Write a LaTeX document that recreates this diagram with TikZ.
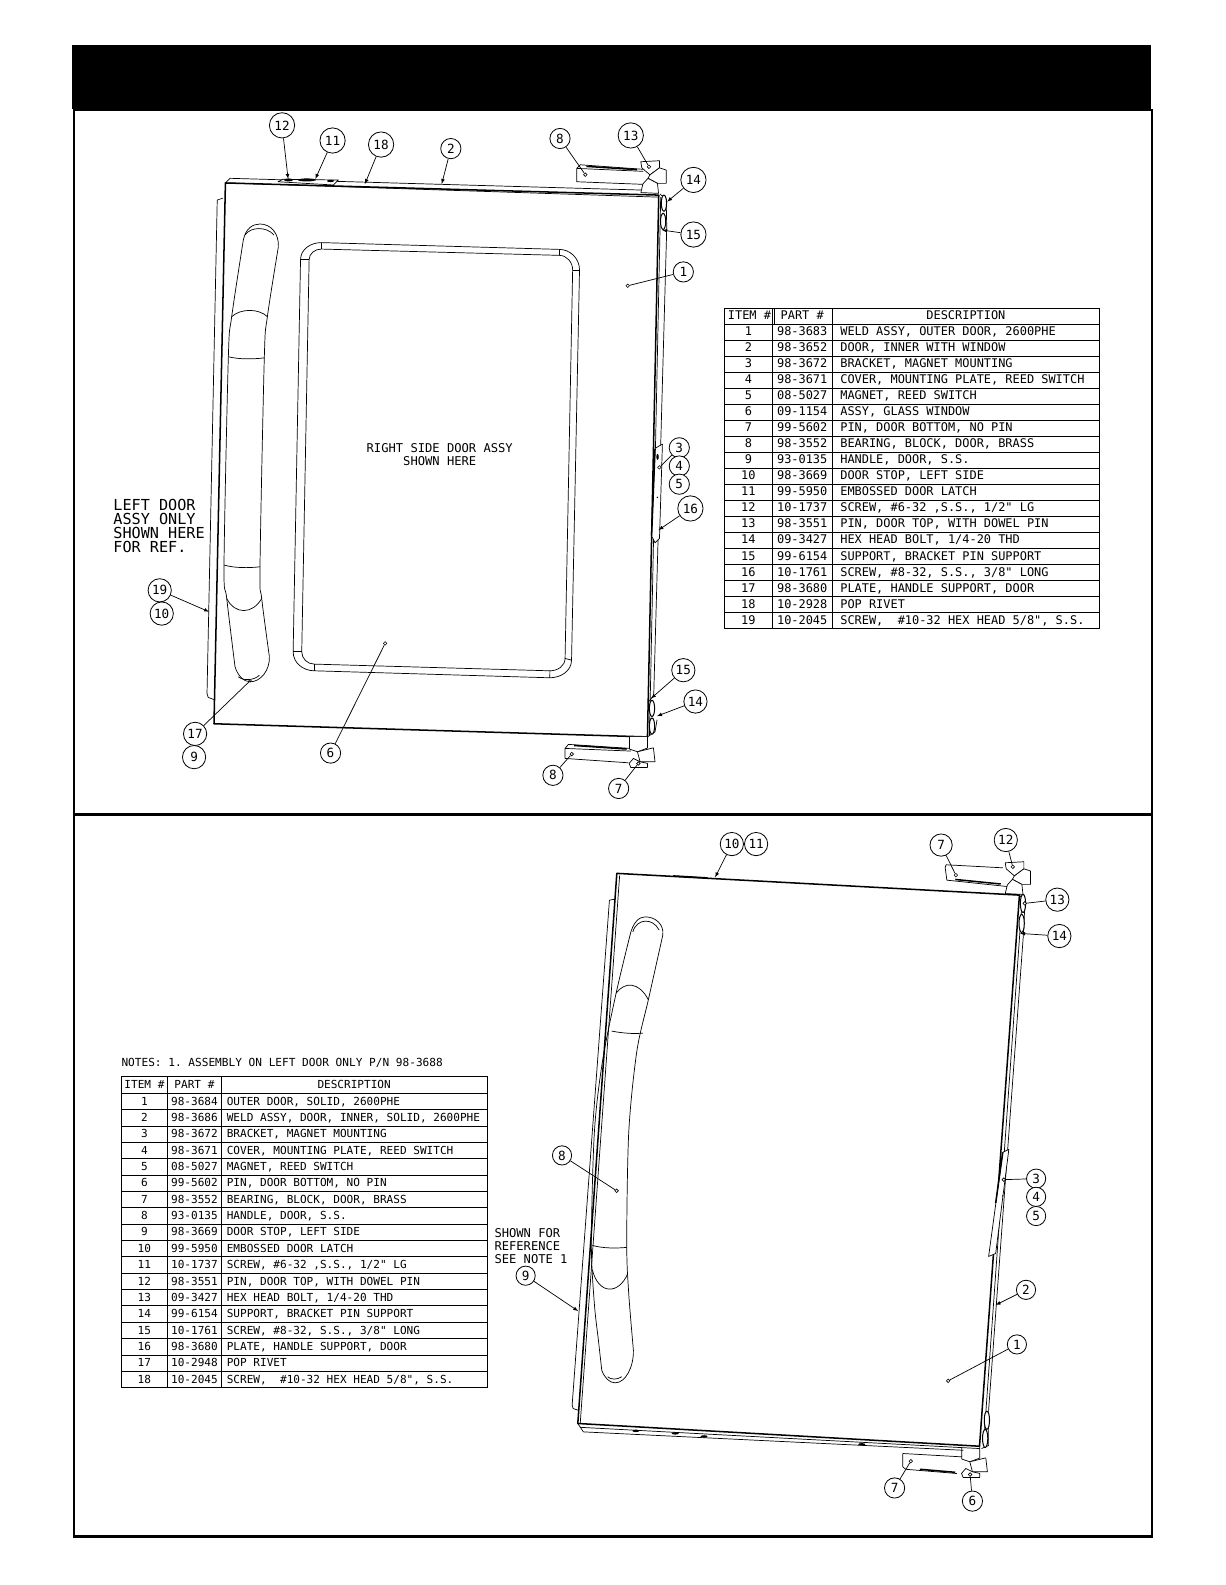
\documentclass[tikz,border=0pt]{standalone}
\usepackage{fontspec}
\setmonofont{DejaVu Sans Mono}
\tikzset{
	balloon/.style  = {draw, fill=white, circle, minimum size=25pt, inner sep=0pt, line width=.8pt, font=\ttfamily\fontsize{12.5}{12}\selectfont},
	sballoon/.style = {balloon, minimum size=20pt},
	mballoon/.style = {balloon, minimum size=23pt},
	leadend/.style  = {coordinate},
	leaddot/.style  = {draw, fill=white, circle, minimum size=3.5pt, inner sep=0pt, line width=.6pt},
	lead/.style     = {line width=.7pt},
	part/.style     = {line width=.7pt, line join=round},
	heavy/.style    = {line width=1.5pt, line join=round},
	frameline/.style = {line width=2pt},
	note/.style     = {align=left, anchor=north west, inner sep=0pt, font=\ttfamily\fontsize{12}{13}\selectfont},
	ucell/.style    = {draw, rectangle, anchor=west, inner ysep=0pt, minimum height=15.85pt, text height=8.8pt, text depth=1.5pt, line width=.8pt, font=\ttfamily\fontsize{11.8}{12}\selectfont},
	lcell/.style    = {ucell, minimum height=16.18pt, font=\ttfamily\fontsize{10.95}{12}\selectfont},
}

\begin{document}
\begin{tikzpicture}[x=1pt, y=-1pt, >=latex]
	\useasboundingbox (0,0) rectangle (1212,1568);

	% Draw the sheet frame
	\node[fill=black, minimum width=1067pt, minimum height=64pt, inner sep=0pt, anchor=north west] (banner) at (71,44) {};
	\node[draw, frameline, minimum width=1067pt, minimum height=1411pt, inner sep=0pt, anchor=north west] (sheet) at (72,108) {};
	\draw[line width=2.5pt] (sheet.west |- 0,806) -- (sheet.east |- 0,806);

	% Draw the upper door
	\draw[heavy] (223,181) -- (651.7,193) -- (640.5,729) -- (211.7,716) -- cycle;
	\draw[part] (223,181) -- (227.5,176.4) -- (634,188);
	\draw[part] (226,181) -- (651,195);
	\draw[part] (214.9,197.9) -- (220.6,196);
	\draw[part] (214.9,197.9) -- (204.8,686) -- (206,690) -- (211.7,692);
	\draw[part] (653.6,195) -- (642.5,727);
	\draw[part] (653,192) -- (659,197) -- (659.6,225) -- (646.7,688) -- (641,695);
	\draw[part] (640.5,729) -- (648,724) -- (650,712);
	\draw[part, fill=white] (275,179.8) -- (280,177.4) -- (334.8,178.1) -- (329.7,183) -- cycle;
	\fill (285.4,178) ellipse (4.5 and 1.5);
	\fill (303.5,178) ellipse (9 and 1.5);
	\fill (327,179) ellipse (3.5 and 1.2);
	\foreach \bx/\by in {656.8/201, 656/219, 645/700.8, 645/718.3}
		\draw[line width=1pt, fill=white] (\bx,\by) ellipse (2.6 and 8);

	% Draw the upper handle
	\draw[part] plot[smooth] coordinates {(240.7,237.5) (229.2,313.3) (225.9,352.9) (221.6,559) (224.3,592) (232.5,659.6)};
	\draw[part] plot[smooth] coordinates {(275.4,244) (264.5,313.3) (261.5,352.9) (257.2,560.7) (258.9,592) (266.5,649.7)};
	\draw[part] (240.7,237.5) .. controls (243,226) and (250,221.6) .. (257.2,221.6) .. controls (268,221.6) and (276,231) .. (275.4,244);
	\draw[part] (232.5,659.6) .. controls (235,668) and (241,674.5) .. (247.4,674.5) .. controls (258,674.5) and (267,663) .. (266.5,649.7);
	\draw[part] (229.2,313.3) .. controls (238,305) and (256,305) .. (264.5,313.3);
	\draw[part] (225.9,352.9) .. controls (236,355.5) and (250,355.5) .. (261.5,354);
	\draw[part] (221.6,559) .. controls (232,562) and (246,562) .. (257.2,560.7);
	\draw[part] (224.3,592) .. controls (232,608) and (250,608) .. (258.9,592);
	\draw[part] (242.4,232.5) .. controls (248,224) and (264,224) .. (271,232.5);
	\draw[part] (235.8,669.5) .. controls (240,673.5) and (251,673.5) .. (256.6,668);

	% Draw the window
	\draw[part] (317.8,240) -- (553,246.7) to[out=0, in=90] (573.3,267) -- (565.4,653) to[out=-90, in=0] (543.9,670.5) -- (311,663.6) to[out=180, in=-90] (290,644.8) -- (297.3,257) to[out=90, in=180] cycle;
	\draw[part] (317.8,246.4) -- (553,252.6) to[out=0, in=90] (566.5,267) -- (559,651.4) to[out=-90, in=0] (544,663.6) -- (311,657) to[out=180, in=-90] (298.5,644.8) -- (305.8,257) to[out=90, in=180] cycle;
	\draw[part] (317.8,240) -- (317.8,246.4) (553,246.7) -- (553,252.6) (573.3,267) -- (566.5,267);
	\draw[part] (297.3,257) -- (305.8,257) (290,644.8) -- (298.5,644.8) (311,663.6) -- (311,657);
	\draw[part] (543.9,670.5) -- (544,663.6) (565.4,653) -- (559,651.4);

	% Draw the hinge blocks
	\draw[part] (570.6,166.6) -- (574,163) -- (636.5,167.5) (570.6,166.6) -- (636.5,169.5) (570.6,166.6) -- (570.6,179.8) -- (637.2,182.4);
	\draw[heavy] (580,164.6) -- (630,167.8);
	\draw[part] (559,740.4) -- (562.3,736.4) -- (624,740.4) (559,740.4) -- (624,743) (559,740.4) -- (559,750.3) -- (621.7,754.6);
	\draw[heavy] (568,737.5) -- (620,741);
	\draw[part] (935,858) -- (936,855.5) -- (992,858.5) (935,858) -- (936.7,870.7) -- (999.3,877.3);
	\draw[heavy] (945,870) -- (990,874.5);
	\draw[part] (893.1,1437.9) -- (953.1,1441.3) (893.1,1437.9) -- (893.1,1451.1) -- (896,1453.5) -- (946.6,1457.7);
	\draw[heavy] (910,1453.5) -- (945,1456.5);

	% Draw the hinge pins at the top
	\foreach \hx/\hy in {0/0, 360.5/693.5} {
		\draw[part, fill=white] (\hx+633.9,\hy+160) -- (\hx+652.4,\hy+159) -- (\hx+652.4,\hy+166) -- (\hx+643,\hy+173) -- (\hx+634.9,\hy+166) -- cycle;
		\draw[part, fill=white] (\hx+652.4,\hy+166) -- (\hx+659,\hy+168.2) -- (\hx+659,\hy+181.4) -- (\hx+650.4,\hy+181.4) -- (\hx+641,\hy+176.4) -- (\hx+643,\hy+173) -- cycle;
		\draw[part, fill=white] (\hx+636,\hy+182) -- (\hx+641,\hy+176.4) -- (\hx+650.4,\hy+181.4) -- (\hx+651.5,\hy+191.3) -- (\hx+634,\hy+190.5) -- cycle;
	}

	% Draw the hinge pins at the bottom
	\foreach \hx/\hy in {0/0, 328.8/702.4} {
		\draw[part, fill=white] (\hx+622.7,\hy+728.9) -- (\hx+622.7,\hy+741) -- (\hx+630.6,\hy+743.7) -- (\hx+640.5,\hy+740) -- (\hx+640.5,\hy+728.9);
		\draw[part, fill=white] (\hx+630.6,\hy+743.7) -- (\hx+646.4,\hy+739.8) -- (\hx+648,\hy+753.6) -- (\hx+633.2,\hy+753.6) -- cycle;
		\draw[part, fill=white] (\hx+622.4,\hy+755.2) -- (\hx+626.6,\hy+750.3) -- (\hx+633.2,\hy+753.6) -- (\hx+640.5,\hy+755.2) -- (\hx+640.5,\hy+759.2) -- (\hx+624,\hy+759.2) -- cycle;
	}

	% Draw the upper bracket
	\draw[part, fill=white] (648,443.6) -- (655.3,439.3) -- (652.4,532.6) -- (648,537) -- (644.6,530) -- cycle;
	\draw[heavy] (648,444) -- (644.6,530);
	\fill (650.5,452) ellipse (1.2 and 3);
	\fill (650.3,492) circle (.8);

	% Draw the upper balloons
	\draw
	node[balloon] at (279,124) (u12) {12}
	node[balloon] at (329,139) (u11) {11}
	node[balloon] at (377,143) (u18) {18}
	node[sballoon] at (446,147) (u2) {2}
	node[sballoon] at (554,137) (u8) {8}
	node[balloon] at (624,134) (u13) {13}
	node[balloon] at (686,178) (u14) {14}
	node[balloon] at (686,232) (u15) {15}
	node[sballoon] at (676,269) (u1) {1}
	node[sballoon] at (672,443) (u3) {3}
	node[sballoon] at (672,461) (u4) {4}
	node[sballoon] at (672,479) (u5) {5}
	node[balloon] at (683,503) (u16) {16}
	node[mballoon] at (158,584) (u19) {19}
	node[mballoon] at (160,607) (u10) {10}
	node[mballoon] at (193,726) (u17) {17}
	node[mballoon] at (192,749) (u9) {9}
	node[sballoon] at (327,745) (u6) {6}
	node[mballoon] at (676,663) (u15b) {15}
	node[mballoon] at (688,694) (u14b) {14}
	node[sballoon] at (547,767) (u8b) {8}
	node[sballoon] at (612,780) (u7) {7};

	% Draw the upper leader ends
	\draw
	node[leadend] at (285,177) (e12) {}
	node[leadend] at (312,177) (e11) {}
	node[leadend] at (361,182) (e18) {}
	node[leadend] at (437,182) (e2) {}
	node[leadend] at (660,199.5) (e14) {}
	node[leadend] at (655,227.6) (e15) {}
	node[leadend] at (651.4,524.4) (e16) {}
	node[leadend] at (206.8,605.2) (e19) {}
	node[leadend] at (644,691) (e15b) {}
	node[leadend] at (650,708.4) (e14b) {}
	node[leaddot] at (579,172.8) (d8) {}
	node[leaddot] at (642,165) (d13) {}
	node[leaddot] at (621,282.7) (d1) {}
	node[leaddot] at (652.3,462.4) (d3) {}
	node[leaddot] at (381,636.5) (d6) {}
	node[leaddot] at (565.6,746) (d8b) {}
	node[leaddot] at (631.5,755.3) (d7) {}
	node[leaddot, minimum size=2.5pt] at (247.4,673.5) (d17) {};

	% Connect the upper balloons
	\draw[lead, ->] (u12) -- (e12);
	\draw[lead, ->] (u11) -- (e11);
	\draw[lead, ->] (u18) -- (e18);
	\draw[lead, ->] (u2) -- (e2);
	\draw[lead, ->] (u14) -- (e14);
	\draw[lead, ->] (u15) -- (e15);
	\draw[lead, ->] (u16) -- (e16);
	\draw[lead, ->] (u19) -- (e19);
	\draw[lead, ->] (u15b) -- (e15b);
	\draw[lead, ->] (u14b) -- (e14b);
	\draw[lead] (u8) -- (d8);
	\draw[lead] (u13) -- (d13);
	\draw[lead] (u1) -- (d1);
	\draw[lead] (u3) -- (d3);
	\draw[lead] (u6) -- (d6);
	\draw[lead] (u8b) -- (d8b);
	\draw[lead] (u7) -- (d7);
	\draw[lead] (u17) -- (d17);

	% Draw the upper notes
	\node[note, font=\ttfamily\fontsize{15}{13.7}\selectfont] (leftnote) at (112,494) {LEFT DOOR\\ASSY ONLY\\SHOWN HERE\\FOR REF.};
	\node[align=center, font=\ttfamily\fontsize{12}{12.5}\selectfont] (rightnote) at (435,450) {RIGHT SIDE DOOR ASSY\\SHOWN HERE};

	% Draw the upper table
	\node[ucell, minimum width=47.1pt] (uitem0) at (716.4,312.6) {ITEM \#};
	\node[ucell, minimum width=59.4pt] (upart0) at (763.5,312.6) {PART \#};
	\node[ucell, minimum width=264.5pt] (udesc0) at (822.9,312.6) {DESCRIPTION};
	\foreach \i/\pn/\desc in {
		1/98-3683/{WELD ASSY, OUTER DOOR, 2600PHE},
		2/98-3652/{DOOR, INNER WITH WINDOW},
		3/98-3672/{BRACKET, MAGNET MOUNTING},
		4/98-3671/{COVER, MOUNTING PLATE, REED SWITCH},
		5/08-5027/{MAGNET, REED SWITCH},
		6/09-1154/{ASSY, GLASS WINDOW},
		7/99-5602/{PIN, DOOR BOTTOM, NO PIN},
		8/98-3552/{BEARING, BLOCK, DOOR, BRASS},
		9/93-0135/{HANDLE, DOOR, S.S.},
		10/98-3669/{DOOR STOP, LEFT SIDE},
		11/99-5950/{EMBOSSED DOOR LATCH},
		12/10-1737/{SCREW, \#6-32 ,S.S., 1/2" LG},
		13/98-3551/{PIN, DOOR TOP, WITH DOWEL PIN},
		14/09-3427/{HEX HEAD BOLT, 1/4-20 THD},
		15/99-6154/{SUPPORT, BRACKET PIN SUPPORT},
		16/10-1761/{SCREW, \#8-32, S.S., 3/8" LONG},
		17/98-3680/{PLATE, HANDLE SUPPORT, DOOR},
		18/10-2928/{POP RIVET},
		19/10-2045/{SCREW,~~\#10-32 HEX HEAD 5/8", S.S.}} {
		\node[ucell, minimum width=47.1pt] (uitem\i) at (716.4,{312.6+15.85*\i}) {\i};
		\node[ucell, minimum width=59.4pt] (upart\i) at (763.5,{312.6+15.85*\i}) {\pn};
		\node[ucell, minimum width=264.5pt, text width=248.5pt, align=flush left] (udesc\i) at (822.9,{312.6+15.85*\i}) {\desc};
	}

	% Draw the lower door
	\draw[heavy] (610.2,864) -- (1008.5,885.5) -- (969,1430.7) -- (571.6,1408.2) -- cycle;
	\draw[part] (571.6,1408.2) -- (577.1,1416.5) -- (953,1434.7);
	\draw[part] (574,1412) -- (969,1433);
	\draw[part] (613,866) -- (574,1408);
	\draw[heavy] (666,866.5) -- (700,868.5);
	\draw[part] (602.9,890.5) -- (608.5,889.5);
	\draw[part] (602.9,890.5) -- (566,1390) -- (567,1393.4) -- (571.6,1395);
	\draw[part] (1011.5,886) -- (973,1429);
	\draw[part] (1008.5,885.5) -- (1014,892) -- (1012.5,923.4) -- (978,1395) -- (978,1430) -- (971,1433);
	\foreach \bx/\by in {1012/893.7, 1010.7/913.5, 976.3/1405, 974.6/1423}
		\draw[line width=1pt, fill=white] (\bx,\by) ellipse (2.6 and 9);
	\foreach \bx/\by in {629/1415.5, 668/1418, 696.5/1421, 852.5/1428.8}
		\fill (\bx,\by) ellipse (3.5 and 1.2);

	% Draw the lower handle
	\draw[part] plot[smooth] coordinates {(623.3,925) (609.5,982.5) (596,1050) (588,1120) (585,1230) (588,1290) (592,1326) (595.3,1355.5)};
	\draw[part] plot[smooth] coordinates {(655.7,925) (641.4,989) (630,1040) (622,1120) (620,1230) (622,1280) (626.6,1335.7)};
	\draw[part] (623.3,925) .. controls (626,913) and (632,907) .. (638.2,907) .. controls (649,907) and (657,915) .. (655.7,925);
	\draw[part] (595.3,1355.5) .. controls (598,1363) and (603,1368) .. (608.5,1368) .. controls (619,1368) and (627,1352) .. (626.6,1335.7);
	\draw[part] (609.5,982.5) .. controls (618,971) and (632,971) .. (641.4,989);
	\draw[part] (605,1020) .. controls (615,1022) and (627,1023) .. (636,1022);
	\draw[part] (586,1232) .. controls (596,1235) and (610,1235) .. (620,1234);
	\draw[part] (586,1256) .. controls (592,1281) and (612,1281) .. (621,1260);
	\draw[part] (626,922) .. controls (630,908) and (646,908) .. (652,920);
	\draw[part] (601.2,1362) .. controls (604,1365) and (611,1365) .. (615,1362);

	% Draw the lower bracket
	\draw[part, fill=white] (992,1140) -- (998,1137) -- (985,1240) -- (978,1243) -- cycle;
	\draw[heavy] (992,1140) -- (985,1190);
	\fill (992,1183) circle (.8);

	% Draw the lower balloons
	\draw
	node[mballoon] at (724,835) (l10) {10}
	node[mballoon] at (748,835) (l11) {11}
	node[mballoon, minimum size=22pt] at (931,836) (l7) {7}
	node[mballoon] at (995,831) (l12) {12}
	node[mballoon] at (1046,890) (l13) {13}
	node[mballoon] at (1048,926) (l14) {14}
	node[sballoon, minimum size=19pt] at (1025,1166) (l3) {3}
	node[sballoon, minimum size=19pt] at (1025,1184) (l4) {4}
	node[sballoon, minimum size=19pt] at (1025,1203) (l5) {5}
	node[sballoon, minimum size=19pt] at (1015,1276) (l2) {2}
	node[sballoon, minimum size=19pt] at (1006,1330) (l1) {1}
	node[sballoon] at (962,1485) (l6) {6}
	node[sballoon] at (885,1472) (l7b) {7}
	node[sballoon, minimum size=19pt] at (556,1143) (l8) {8}
	node[sballoon, minimum size=19pt] at (520,1262) (l9) {9};

	% Draw the lower leader ends
	\draw
	node[leadend] at (707.4,868) (f10) {}
	node[leadend] at (1009.2,923.4) (f14) {}
	node[leadend] at (985,1291) (f2) {}
	node[leadend] at (572,1297) (f9) {}
	node[leaddot] at (1001.9,857.5) (g12) {}
	node[leaddot] at (945.6,865.7) (g7) {}
	node[leaddot] at (1013.7,893.7) (g13) {}
	node[leaddot] at (993,1167) (g3) {}
	node[leaddot] at (938,1366) (g1) {}
	node[leaddot] at (959.7,1458.7) (g6) {}
	node[leaddot] at (901,1445.5) (g7b) {}
	node[leaddot] at (610,1178) (g8) {};

	% Connect the lower balloons
	\draw[lead, ->] (l10) -- (f10);
	\draw[lead, ->] (l14) -- (f14);
	\draw[lead, ->] (l2) -- (f2);
	\draw[lead, ->] (l9) -- (f9);
	\draw[lead] (l12) -- (g12);
	\draw[lead] (l7) -- (g7);
	\draw[lead] (l13) -- (g13);
	\draw[lead] (l3) -- (g3);
	\draw[lead] (l1) -- (g1);
	\draw[lead] (l6) -- (g6);
	\draw[lead] (l7b) -- (g7b);
	\draw[lead] (l8) -- (g8);

	% Draw the lower notes
	\node[note] (shownnote) at (489,1215) {SHOWN FOR\\REFERENCE\\SEE NOTE 1};
	\node[note, font=\ttfamily\fontsize{11}{12}\selectfont] (assynote) at (120,1047) {NOTES: 1. ASSEMBLY ON LEFT DOOR ONLY P/N 98-3688};

	% Draw the lower table
	\node[lcell, minimum width=46.1pt] (litem0) at (119.4,1073.4) {ITEM \#};
	\node[lcell, minimum width=52.9pt] (lpart0) at (165.5,1073.4) {PART \#};
	\node[lcell, minimum width=263.1pt] (ldesc0) at (218.4,1073.4) {DESCRIPTION};
	\foreach \i/\pn/\desc in {
		1/98-3684/{OUTER DOOR, SOLID, 2600PHE},
		2/98-3686/{WELD ASSY, DOOR, INNER, SOLID, 2600PHE},
		3/98-3672/{BRACKET, MAGNET MOUNTING},
		4/98-3671/{COVER, MOUNTING PLATE, REED SWITCH},
		5/08-5027/{MAGNET, REED SWITCH},
		6/99-5602/{PIN, DOOR BOTTOM, NO PIN},
		7/98-3552/{BEARING, BLOCK, DOOR, BRASS},
		8/93-0135/{HANDLE, DOOR, S.S.},
		9/98-3669/{DOOR STOP, LEFT SIDE},
		10/99-5950/{EMBOSSED DOOR LATCH},
		11/10-1737/{SCREW, \#6-32 ,S.S., 1/2" LG},
		12/98-3551/{PIN, DOOR TOP, WITH DOWEL PIN},
		13/09-3427/{HEX HEAD BOLT, 1/4-20 THD},
		14/99-6154/{SUPPORT, BRACKET PIN SUPPORT},
		15/10-1761/{SCREW, \#8-32, S.S., 3/8" LONG},
		16/98-3680/{PLATE, HANDLE SUPPORT, DOOR},
		17/10-2948/{POP RIVET},
		18/10-2045/{SCREW,~~\#10-32 HEX HEAD 5/8", S.S.}} {
		\node[lcell, minimum width=46.1pt] (litem\i) at (119.4,{1073.4+16.18*\i}) {\i};
		\node[lcell, minimum width=52.9pt, inner xsep=0pt] (lpart\i) at (165.5,{1073.4+16.18*\i}) {\pn};
		\node[lcell, minimum width=263.1pt, text width=252pt, inner xsep=5.5pt, align=flush left] (ldesc\i) at (218.4,{1073.4+16.18*\i}) {\desc};
	}
\end{tikzpicture}
\end{document}
